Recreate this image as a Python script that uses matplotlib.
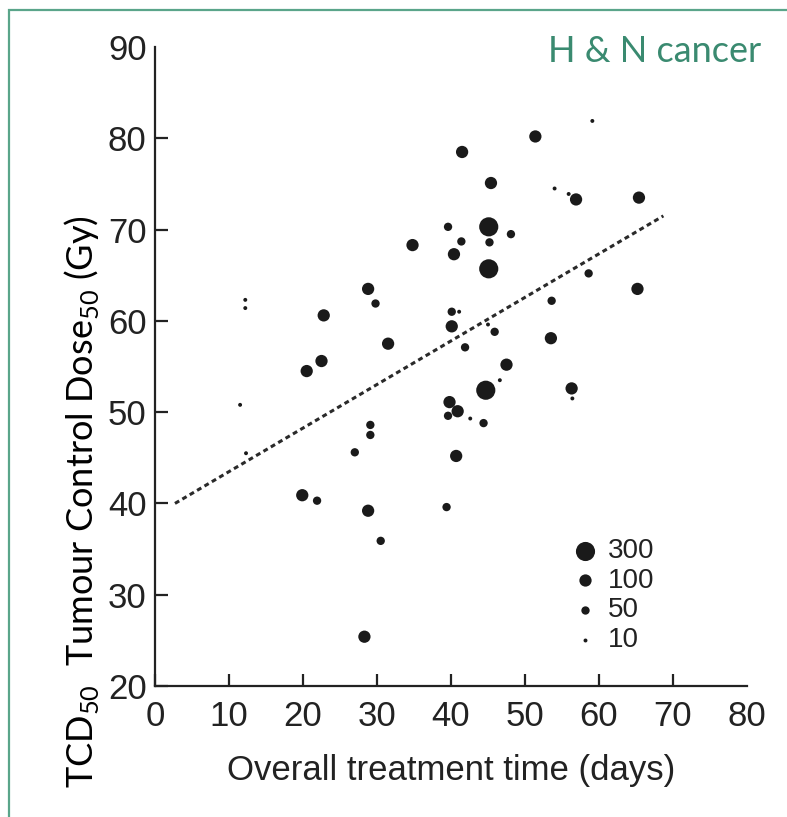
import matplotlib
matplotlib.use('Agg')
from matplotlib import pyplot as plt
from matplotlib.patches import Rectangle

# data: days, TCD50 (Gy), patient-number class
days = [41.5, 39.6, 41.4, 40.4, 34.8, 28.8, 29.8, 12.2, 12.2, 22.8,
        40.1, 41.1, 40.1, 41.9, 31.5, 22.5, 20.5, 39.8, 59.1, 51.4,
        45.4, 54.0, 55.9, 56.9, 65.4, 45.1, 48.1, 45.2, 45.1, 58.6,
        65.2, 53.6, 45.0, 45.9, 53.5, 47.5, 46.6, 44.7, 56.3, 56.4,
        11.5, 40.9, 39.6, 42.6, 29.1, 29.1, 12.3, 27.0, 40.7, 19.9,
        21.9, 28.8, 39.4, 30.5, 28.3, 44.4]
dose = [78.5, 70.3, 68.7, 67.3, 68.3, 63.5, 61.9, 62.3, 61.4, 60.6,
        61.0, 61.0, 59.4, 57.1, 57.5, 55.6, 54.5, 51.1, 81.9, 80.2,
        75.1, 74.5, 73.9, 73.3, 73.5, 70.3, 69.5, 68.6, 65.7, 65.2,
        63.5, 62.2, 59.6, 58.8, 58.1, 55.2, 53.5, 52.4, 52.6, 51.5,
        50.8, 50.1, 49.6, 49.3, 48.6, 47.5, 45.5, 45.6, 45.2, 40.9,
        40.3, 39.2, 39.6, 35.9, 25.4, 48.8]
patients = [100, 50, 50, 100, 100, 100, 50, 10, 10, 100,
            50, 10, 100, 50, 100, 100, 100, 100, 10, 100,
            100, 10, 10, 100, 100, 300, 50, 50, 300, 50,
            100, 50, 10, 50, 100, 100, 10, 300, 100, 10,
            10, 100, 50, 10, 50, 50, 10, 50, 100, 100,
            50, 100, 50, 50, 100, 50]

fit_days = [2.7, 68.7]
fit_dose = [40.0, 71.5]

legend_classes = [300, 100, 50, 10]
marker_area = {300: 190, 100: 78, 50: 36, 10: 8}

num_font = ['Liberation Sans Narrow', 'Liberation Sans']
slide_font = ['Lato', 'DejaVu Sans']
plt.rcParams['mathtext.fontset'] = 'custom'
plt.rcParams['mathtext.rm'] = 'Lato'

fig = plt.figure(figsize=(7.87, 8.17), dpi=100)
ax = fig.add_axes([155/787, 1 - 686/817, 592/787, 639/817])

ax.scatter(days, dose, s=[marker_area[p] for p in patients],
           color='#1a1a1a', linewidths=0, zorder=3)
ax.plot(fit_days, fit_dose, color='#2a2a2a', lw=2.2, ls=(0, (1.6, 1.2)))

ax.set_xlim(0, 80)
ax.set_ylim(20, 90)
ax.set_xticks(range(0, 81, 10))
ax.set_yticks(range(20, 91, 10))
for s in ['top', 'right']:
    ax.spines[s].set_visible(False)
for s in ['left', 'bottom']:
    ax.spines[s].set_linewidth(1.6)
    ax.spines[s].set_color('#222222')
ax.tick_params(direction='in', length=9, width=1.6, color='#222222',
               labelsize=25, labelcolor='#222222')
ax.tick_params(axis='x', pad=10)
ax.tick_params(axis='y', pad=6)
ax.xaxis.get_major_ticks()[-1].tick1line.set_visible(False)
ax.yaxis.get_major_ticks()[-1].tick1line.set_visible(False)
for lab in ax.get_xticklabels() + ax.get_yticklabels():
    lab.set_family(num_font)

ax.set_xlabel('Overall treatment time (days)', fontsize=25,
              family=num_font, color='#222222', labelpad=15)

handles = [ax.scatter([], [], s=marker_area[c], color='#1a1a1a', linewidths=0)
           for c in legend_classes]
leg = ax.legend(handles, [str(c) for c in legend_classes], loc='upper left',
                bbox_to_anchor=(0.68, 0.249), frameon=False, handletextpad=0.2,
                labelspacing=0.13, prop={'family': num_font, 'size': 20},
                borderaxespad=0, handlelength=1.2)
for t in leg.get_texts():
    t.set_color('#222222')

fig.text(82/787, 1 - 502/817, r'TCD$_\mathrm{50}$  Tumour Control Dose$_\mathrm{50}$ (Gy)',
         rotation=90, ha='center', va='center', fontsize=26, family=slide_font,
         color='black')
fig.text(655/787, 1 - 51/817, 'H & N cancer', ha='center', va='center',
         fontsize=26, family=slide_font, color='#3a8a70')

fig.add_artist(Rectangle((9/787, -0.05), 1.1, 0.05 + 1 - 10/817,
                         transform=fig.transFigure, fill=False,
                         edgecolor='#5aa58a', lw=1.6))

fig.savefig('out.png', dpi=100)
